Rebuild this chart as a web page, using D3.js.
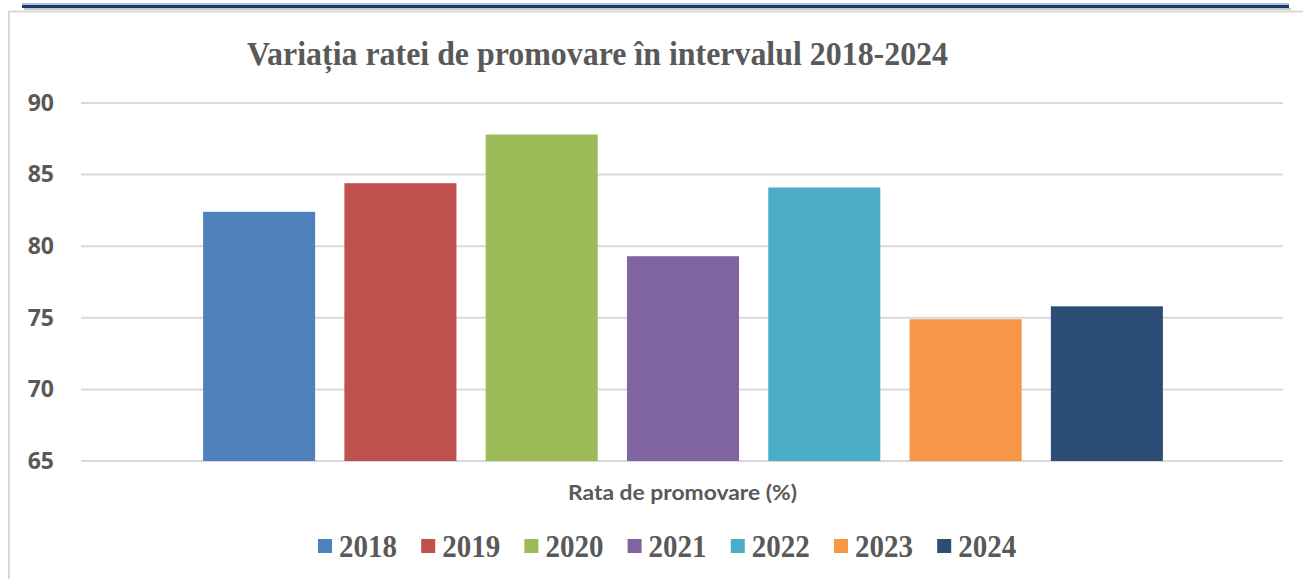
<!DOCTYPE html>
<html>
<head>
<meta charset="utf-8">
<script src="https://d3js.org/d3.v7.min.js"></script>
<style>
  body { margin: 0; background: #fff; }
</style>
</head>
<body>
<script>
// chart data
const years = ['2018', '2019', '2020', '2021', '2022', '2023', '2024'];
const rates = [82.4, 84.4, 87.8, 79.3, 84.1, 74.9, 75.8];
const colors = ['#4F81BD', '#C0504D', '#9BBB59', '#8064A2', '#4BACC6', '#F79646', '#2C4D75'];
const yTicks = [65, 70, 75, 80, 85, 90];
const category = 'Rata de promovare (%)';
const title = 'Variația ratei de promovare în intervalul 2018-2024';

const width = 1303, height = 579;
const plotLeft = 82, plotRight = 1284, plotTop = 103, plotBottom = 461;

const svg = d3.select('body').append('svg')
    .attr('width', width)
    .attr('height', height);

// frame decoration (top bar + light border)
svg.append('rect').attr('x', 22).attr('y', 3).attr('width', 1267).attr('height', 2).attr('fill', '#a9c4e0');
svg.append('rect').attr('x', 22).attr('y', 5).attr('width', 1267).attr('height', 3).attr('fill', '#1f3a60');
svg.append('rect').attr('x', 24).attr('y', 8).attr('width', 1267).attr('height', 2).attr('fill', '#c8c8c8');
svg.append('line').attr('x1', 8).attr('x2', 1303).attr('y1', 11.5).attr('y2', 11.5)
    .attr('stroke', '#d9d9d9').attr('stroke-width', 2);
svg.append('line').attr('x1', 9).attr('x2', 9).attr('y1', 11).attr('y2', height)
    .attr('stroke', '#d9d9d9').attr('stroke-width', 2);

const y = d3.scaleLinear().domain([65, 90]).range([plotBottom, plotTop]);
const x = d3.scaleBand().domain(years).range([plotLeft, plotRight])
    .paddingInner(0.207).paddingOuter(0.857);

// gridlines
svg.append('g').selectAll('line')
    .data(yTicks)
    .enter().append('line')
    .attr('x1', plotLeft - 1).attr('x2', plotRight - 1)
    .attr('y1', d => y(d)).attr('y2', d => y(d))
    .attr('stroke', '#d9d9d9')
    .attr('stroke-width', 2);

// y axis labels
const yAxis = d3.axisLeft(y).tickValues(yTicks).tickSize(0).tickPadding(0);
const ya = svg.append('g')
    .attr('transform', 'translate(54,0)')
    .call(yAxis);
ya.select('.domain').remove();
ya.selectAll('text')
    .attr('fill', '#595959')
    .style('font-family', '"Open Sans", sans-serif')
    .style('font-weight', 'bold')
    .style('font-size', '23px');

// bars
svg.append('g').selectAll('rect')
    .data(rates)
    .enter().append('rect')
    .attr('x', (d, i) => x(years[i]))
    .attr('y', d => y(d))
    .attr('width', x.bandwidth())
    .attr('height', d => y(65) - y(d))
    .attr('fill', (d, i) => colors[i]);

// title
svg.append('text')
    .attr('x', 247).attr('y', 65)
    .attr('textLength', 701)
    .attr('lengthAdjust', 'spacingAndGlyphs')
    .attr('fill', '#595959')
    .style('font-family', '"Liberation Serif", serif')
    .style('font-weight', 'bold')
    .style('font-size', '34px')
    .text(title);

// category label
svg.append('text')
    .attr('x', 568).attr('y', 500)
    .attr('textLength', 229)
    .attr('lengthAdjust', 'spacingAndGlyphs')
    .attr('fill', '#595959')
    .style('font-family', 'Lato, sans-serif')
    .style('font-weight', 'bold')
    .style('font-size', '21px')
    .text(category);

// legend
const legend = svg.append('g').selectAll('g')
    .data(years)
    .enter().append('g')
    .attr('transform', (d, i) => 'translate(' + (318 + i * 103.2) + ',0)');
legend.append('rect')
    .attr('x', 0).attr('y', 539)
    .attr('width', 14).attr('height', 14)
    .attr('fill', (d, i) => colors[i]);
legend.append('text')
    .attr('x', 21).attr('y', 557)
    .attr('textLength', 58)
    .attr('lengthAdjust', 'spacingAndGlyphs')
    .attr('fill', '#595959')
    .style('font-family', '"Liberation Serif", serif')
    .style('font-weight', 'bold')
    .style('font-size', '31px')
    .text(d => d);
</script>
</body>
</html>
